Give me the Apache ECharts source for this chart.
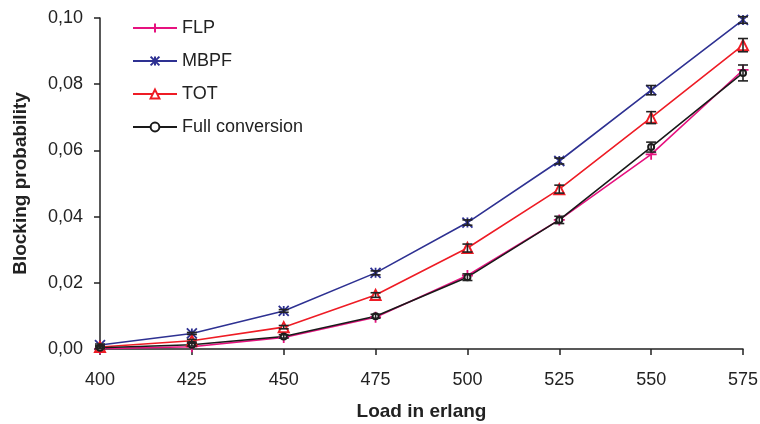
<!DOCTYPE html>
<html>
<head>
<meta charset="utf-8">
<script src="https://cdn.jsdelivr.net/npm/echarts@6/dist/echarts.min.js"></script>
<style>
  html, body { margin: 0; padding: 0; background: #fff; }
  #chart { width: 760px; height: 424px; }
</style>
</head>
<body>
<div id="chart"></div>
<script>
// load in erlang
const loads = ['400', '425', '450', '475', '500', '525', '550', '575']

// blocking probability per scheme
const flp = [0.0001, 0.0007, 0.0035, 0.0096, 0.0222, 0.0390, 0.0588, 0.0843]
const mbpf = [0.0012, 0.0047, 0.0115, 0.0230, 0.0382, 0.0568, 0.0782, 0.0994]
const tot = [0.0006, 0.0025, 0.0066, 0.0163, 0.0305, 0.0483, 0.0699, 0.0918]
const fullConv = [0.0004, 0.0013, 0.0038, 0.0099, 0.0217, 0.0390, 0.0610, 0.0834]

// half width of the error bars
const mbpfErr = [0.0003, 0.0003, 0.0004, 0.0006, 0.0008, 0.0009, 0.0014, 0.0010]
const totErr = [0.0003, 0.0004, 0.0005, 0.0007, 0.0012, 0.0012, 0.0018, 0.0020]
const fullErr = [0.0003, 0.0004, 0.0005, 0.0006, 0.0010, 0.0011, 0.0015, 0.0024]

const font = 'Liberation Sans, Arial, sans-serif'

// [x, low, high] rows for the custom error bar series
function errRows(vals, errs) {
  return vals.map((v, i) => [i, v - errs[i], v + errs[i]])
}

function renderErr(params, api) {
  const lo = api.coord([api.value(0), api.value(1)])
  const hi = api.coord([api.value(0), api.value(2)])
  const w = 5
  const st = { stroke: '#222', lineWidth: 1.6 }
  return {
    type: 'group',
    children: [
      { type: 'line', shape: { x1: lo[0], y1: lo[1], x2: hi[0], y2: hi[1] }, style: st },
      { type: 'line', shape: { x1: lo[0] - w, y1: lo[1], x2: lo[0] + w, y2: lo[1] }, style: st },
      { type: 'line', shape: { x1: hi[0] - w, y1: hi[1], x2: hi[0] + w, y2: hi[1] }, style: st }
    ]
  }
}

function errSeries(vals, errs) {
  return {
    type: 'custom',
    renderItem: renderErr,
    data: errRows(vals, errs),
    encode: { x: 0, y: [1, 2] },
    silent: true,
    z: 5
  }
}

function lineSeries(name, data, color, symbol, size) {
  return {
    name: name,
    type: 'line',
    data: data,
    symbol: symbol,
    symbolSize: size,
    showAllSymbol: true,
    lineStyle: { color: color, width: 1.6 },
    itemStyle: { color: color, borderColor: color, borderWidth: 1.8 },
    z: 3
  }
}

const option = {
  animation: false,
  backgroundColor: '#fff',
  grid: { left: 100, right: 17, top: 18, bottom: 75, outerBoundsMode: 'none' },
  legend: {
    orient: 'vertical',
    left: 132,
    top: 19,
    padding: 0,
    itemWidth: 44,
    itemHeight: 11,
    itemGap: 15,
    data: ['FLP', 'MBPF', 'TOT', 'Full conversion'],
    textStyle: { fontFamily: font, fontSize: 18, lineHeight: 18, color: '#222' }
  },
  xAxis: {
    type: 'category',
    data: loads,
    boundaryGap: false,
    name: 'Load in erlang',
    nameLocation: 'middle',
    nameGap: 53,
    nameTextStyle: { fontFamily: font, fontSize: 19, fontWeight: 'bold', color: '#222' },
    axisLine: { lineStyle: { color: '#222', width: 1.5 } },
    axisTick: { interval: 0, length: 6, lineStyle: { color: '#222', width: 1.5 } },
    axisLabel: { interval: 0, margin: 22, fontFamily: font, fontSize: 18, color: '#222' },
    splitLine: { show: false }
  },
  yAxis: {
    type: 'value',
    min: 0,
    max: 0.1,
    interval: 0.02,
    name: 'Blocking probability',
    nameLocation: 'middle',
    nameGap: 70,
    nameTextStyle: { fontFamily: font, fontSize: 19, fontWeight: 'bold', color: '#222' },
    axisLine: { show: true, lineStyle: { color: '#222', width: 1.5 } },
    axisTick: { show: true, length: 6, lineStyle: { color: '#222', width: 1.5 } },
    axisLabel: {
      margin: 17,
      fontFamily: font,
      fontSize: 18,
      color: '#222',
      formatter: v => v.toFixed(2).replace('.', ',')
    },
    splitLine: { show: false }
  },
  series: [
    lineSeries('FLP', flp, '#e6127f', 'path://M0,5L10,5M5,0L5,10', 11),
    lineSeries('MBPF', mbpf, '#2e3192', 'path://M0,0L10,10M10,0L0,10M5,0L5,10', 10),
    lineSeries('TOT', tot, '#ee1c25', 'emptyTriangle', 10),
    lineSeries('Full conversion', fullConv, '#1a1a1a', 'emptyCircle', 6),
    errSeries(mbpf, mbpfErr),
    errSeries(tot, totErr),
    errSeries(fullConv, fullErr)
  ]
}

const myChart = echarts.init(document.getElementById('chart'))
myChart.setOption(option)
</script>
</body>
</html>
